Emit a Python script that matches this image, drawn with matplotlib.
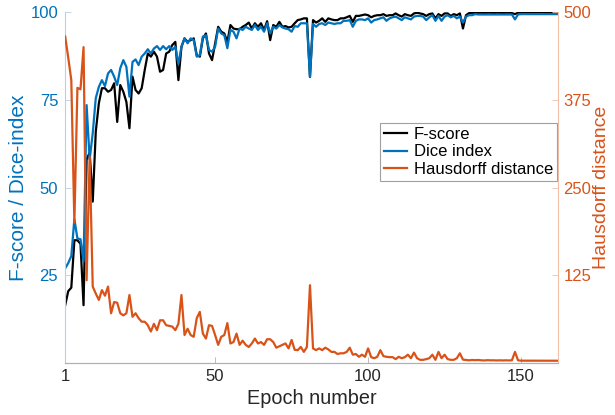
import numpy as np
import matplotlib
matplotlib.use("Agg")
import matplotlib.pyplot as plt

plt.rcParams['font.family'] = ['Liberation Sans', 'DejaVu Sans']

# ── data ────────────────────────────────────────────────────────────────────
epochs = np.arange(1, 163)

fscore = [
    16.5, 20.5, 21.5, 35, 35, 34, 16.5, 58, 60, 46,
    66, 74, 78.3, 78.3, 77.3, 77.8, 79.7, 68.7, 79.2, 77.3,
    74.4, 66.9, 81.6, 77.8, 76.8, 78.3, 83.5, 88.2, 87.3, 88.7,
    87.3, 83, 83.5, 88.2, 88.7, 90.6, 91.5, 80.6, 90.1, 92.5,
    91.5, 92, 92.5, 87.7, 87.3, 92.5, 93.9, 88.2, 86.3, 91.1,
    95.8, 94.4, 93.9, 91.5, 96.3, 95.3, 95.1, 95.1, 95.8, 96.3,
    97.0, 95.3, 96.8, 95.8, 96.8, 94.9, 97.4, 92, 96.3, 95.8,
    97.2, 95.8, 96, 95.6, 95.8, 96.8, 97.7, 97.9, 98.2, 98.2,
    81.5, 97.7, 97, 97.5, 98.2, 97.2, 98.2, 97.9, 97.7, 97.7,
    98.2, 98.2, 98.5, 98.9, 97.2, 98.9, 98.9, 99.1, 99.3, 99.1,
    98.5, 98.9, 99.1, 99.1, 99.4, 98.9, 99.1, 99.1, 99.6, 99.1,
    98.7, 99.4, 99.1, 98.9, 99.6, 99.8, 99.6, 99.4, 98.9, 99.4,
    99.6, 98.2, 99.4, 98.9, 99.6, 99.6, 98.9, 99.4, 99.1, 99.6,
    95.3, 99.1, 99.7, 99.8, 99.7, 99.7, 99.8, 99.7, 99.8, 99.8,
    99.7, 99.8, 99.8, 99.7, 99.8, 99.8, 99.7, 99.4, 99.8, 99.8,
    99.8, 99.9, 99.8, 99.8, 99.8, 99.9, 99.8, 99.8, 99.8, 99.8,
    99.9, 99.8,
]

dice = [
    27, 28.5, 30.5, 41, 35.5, 35.3, 29, 73.5, 58, 65.5,
    75.5, 78.7, 80.6, 78.9, 82.5, 83.5, 81.6, 79.2, 84, 86.3,
    84.4, 75.9, 85.8, 86.5, 84.9, 87.3, 88.2, 89.4, 88.2, 89.6,
    90.3, 89.2, 90.3, 89.4, 90.3, 89.2, 90.1, 85.2, 90.1, 92.5,
    91.1, 92.5, 92, 87.3, 87.7, 93, 93.4, 89.2, 88.7, 90.1,
    95.3, 93.9, 93.4, 89.7, 94.9, 94.4, 92.5, 95.3, 94.9, 95.8,
    95.3, 94.9, 96.3, 94.9, 95.8, 94.4, 96.8, 93.9, 95.8, 95.3,
    96.3, 95.6, 95.3, 95.1, 94.4, 96, 95.8, 96.8, 96.8, 96.8,
    81.5, 96.6, 95.8, 96.6, 96.8, 96.3, 97, 96.8, 96.6, 96.8,
    96.8, 97.5, 97.5, 97.7, 95.8, 97.5, 97.9, 97.9, 97.7, 98.2,
    97, 97.7, 97.9, 98.2, 98.5, 97.5, 98.2, 98.5, 98.7, 98.2,
    97.7, 98.5, 98.2, 97.9, 98.7, 98.9, 98.9, 98.7, 97.7, 98.5,
    99.1, 97.5, 98.9, 97.5, 98.7, 99.1, 98.5, 98.9, 98.2, 98.7,
    97, 98.7, 99.1, 99.1, 99.4, 99.3, 99.3, 99.3, 99.3, 99.3,
    99.3, 99.3, 99.3, 99.3, 99.3, 99.3, 99.3, 97.9, 99.3, 99.4,
    99.4, 99.4, 99.4, 99.4, 99.4, 99.4, 99.4, 99.4, 99.4, 99.4,
    99.4, 99.4,
]

hausdorff = [
    465, 435, 403, 200, 392, 390, 450, 118, 294, 109,
    99, 90, 104, 96, 109, 71, 87, 86, 71, 68,
    71, 97, 66, 71, 64, 59, 59, 54, 45, 56,
    47, 61, 61, 54, 53, 52, 47, 56, 97, 40,
    49, 40, 37.5, 64, 73, 42, 35, 54, 53, 40,
    26, 37.5, 40, 57, 28, 30, 42, 26, 32, 26,
    23, 28, 35, 28, 30, 26, 34, 34, 30, 22,
    24, 26, 28, 21, 33, 19, 18.5, 23, 16, 23,
    111, 21, 18.5, 21, 18.5, 22, 19.5, 16, 16, 13,
    14, 14, 16, 22, 12, 13, 9, 12, 9, 21,
    8.5, 7, 9, 18.5, 10, 9, 8.5, 8.5, 5.7, 9,
    7, 8.5, 12, 7, 15, 7, 4.7, 4.7, 5.7, 7,
    12, 4.7, 16, 7, 12, 5.7, 4.7, 4.7, 7, 14,
    5, 4.5, 4, 4.5, 4.2, 4.5, 4, 3.8, 4.2, 4,
    4, 3.8, 4, 3.8, 4, 3.8, 4, 16, 4, 3.5,
    3.5, 3.4, 3.6, 3.4, 3.5, 3.4, 3.6, 3.4, 3.5, 3.4,
    3.5, 3.4,
]

left_ticks = [25, 50, 75, 100]
right_ticks = [125, 250, 375, 500]
x_ticks = [1, 50, 100, 150]

BLUE = "#0072BD"
ORANGE = "#D95319"

# ── figure ─────────────────────────────────────────────────────────────────
fig = plt.figure(figsize=(6.15, 4.15), dpi=100)
ax1 = fig.add_axes([0.106, 0.125, 0.801, 0.846])
ax2 = ax1.twinx()

l1, = ax1.plot(epochs, fscore, color="black", lw=1.6, label="F-score")
l2, = ax1.plot(epochs, dice, color=BLUE, lw=1.6, label="Dice index")
l3, = ax2.plot(epochs, hausdorff, color=ORANGE, lw=1.6, label="Hausdorff distance")

ax1.set_xlim(1, 162)
ax1.set_ylim(0, 100)
ax2.set_ylim(0, 500)
ax1.set_xticks(x_ticks)
ax1.set_yticks(left_ticks)
ax2.set_yticks(right_ticks)

for ax in (ax1, ax2):
    ax.spines["top"].set_visible(False)
    ax.tick_params(direction="in", length=4, width=0.6, labelsize=12)
    ax.spines["bottom"].set_color("#b0b0b0")
ax2.spines["left"].set_visible(False)
ax1.spines["right"].set_visible(False)
ax1.spines["left"].set_color("#b3d1ea")
ax2.spines["right"].set_color("#f2c0a8")

ax1.tick_params(axis="y", colors="#b3d1ea", labelcolor=BLUE, pad=5)
ax2.tick_params(axis="y", colors="#f2c0a8", labelcolor=ORANGE, pad=4)
ax1.tick_params(axis="x", colors="#b0b0b0", labelcolor="#262626", pad=4)
ax2.tick_params(axis="x", length=0)

ax1.set_xlabel("Epoch number", fontsize=14.3, color="#262626", labelpad=4)
ax1.set_ylabel("F-score / Dice-index", fontsize=15, color=BLUE, labelpad=2)
ax2.set_ylabel("Hausdorff distance", fontsize=14, color=ORANGE, labelpad=1)

leg = ax2.legend(handles=[l1, l2, l3], loc="upper right",
                 bbox_to_anchor=(0.999, 0.684), borderaxespad=0,
                 fontsize=12, handlelength=1.4, handletextpad=0.4,
                 labelspacing=0.14, borderpad=0.25, fancybox=False,
                 framealpha=1, edgecolor="#a0a0a0")
leg.get_frame().set_linewidth(0.8)

plt.savefig("out.png", dpi=100)
plt.close()
